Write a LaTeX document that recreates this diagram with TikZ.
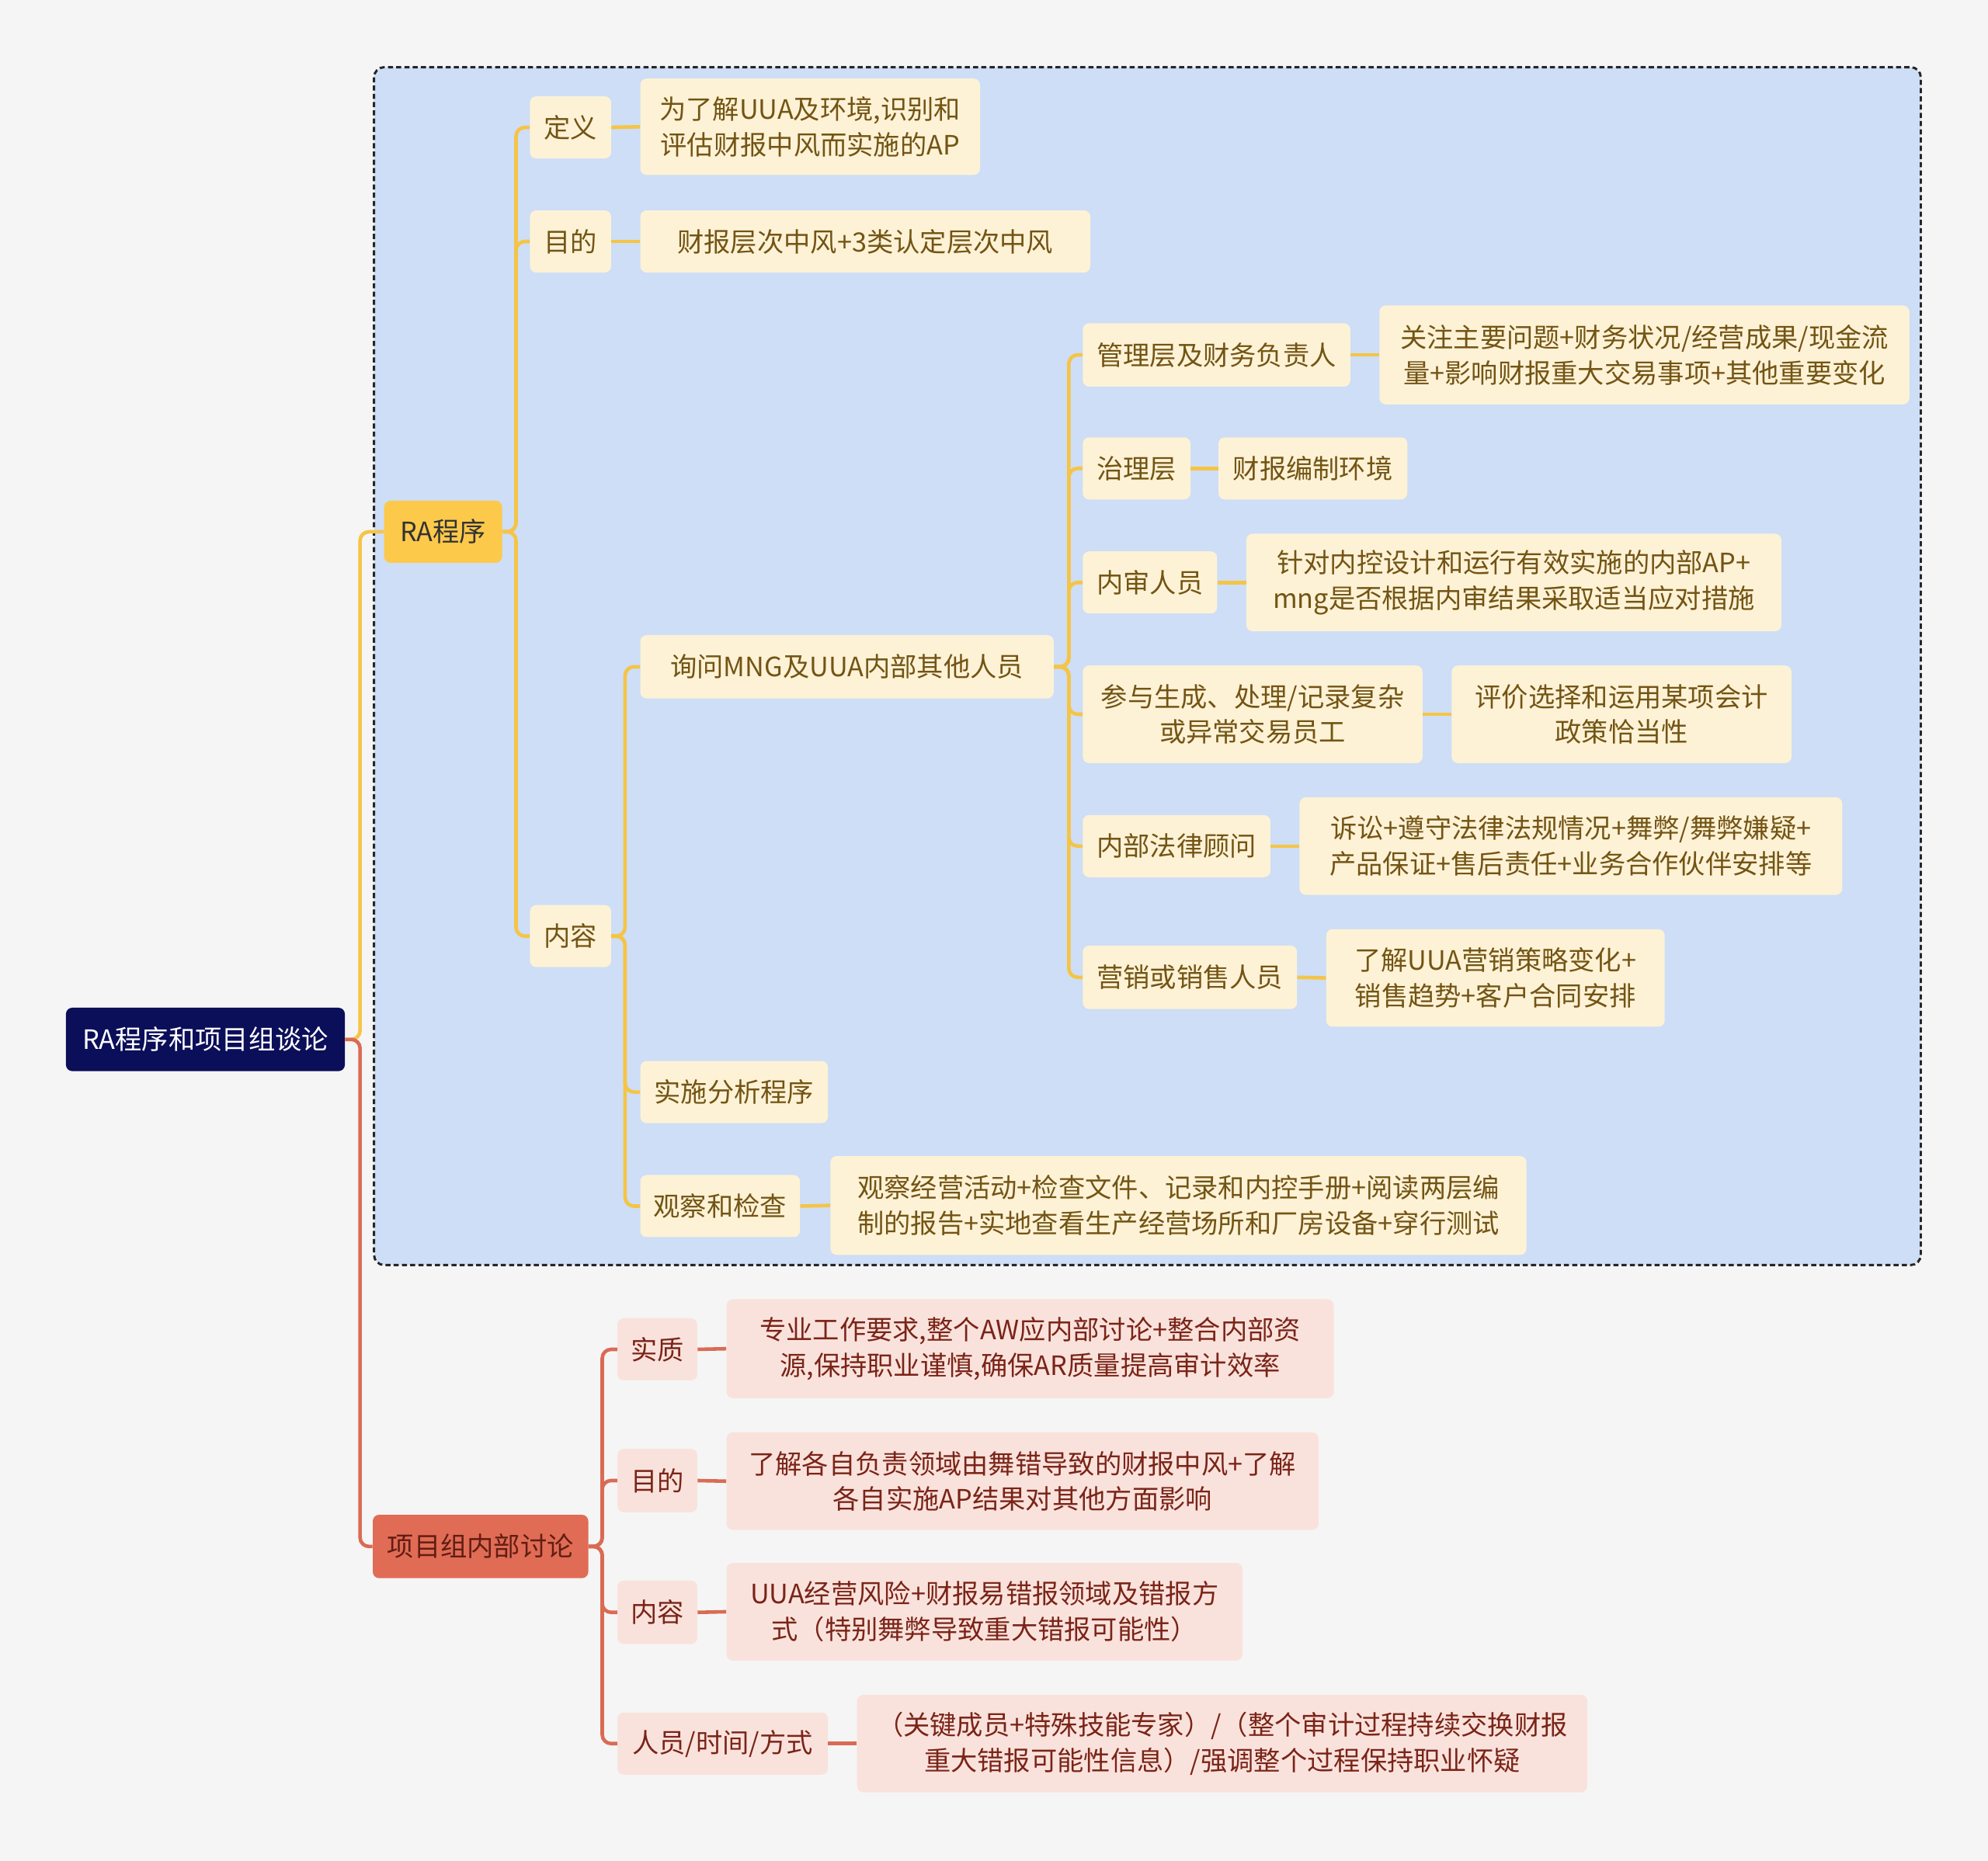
\documentclass[tikz,border=0pt]{standalone}
\usepackage{fontspec}
\setmainfont{Noto Sans CJK SC}
\definecolor{bgc}{HTML}{F5F5F5}
\definecolor{framefill}{HTML}{CDDEF6}
\definecolor{yfill}{HTML}{FDF2D6}
\definecolor{ytext}{HTML}{735414}
\definecolor{yline}{HTML}{F6C445}
\definecolor{ragold}{HTML}{FCC94B}
\definecolor{rfill}{HTML}{FAE2DC}
\definecolor{rtext}{HTML}{7A2418}
\definecolor{rline}{HTML}{D96B55}
\definecolor{xmfill}{HTML}{E06C55}
\definecolor{rootfill}{HTML}{0B0E58}
\tikzset{
  base/.style={rounded corners=5pt, inner sep=0pt, align=center, font=\fontsize{21}{28}\selectfont},
  ybox/.style={base, fill=yfill, text=ytext},
  rbox/.style={base, fill=rfill, text=rtext},
  ylink/.style={draw=yline, line width=2.8pt, rounded corners=7pt},
  rlink/.style={draw=rline, line width=2.8pt, rounded corners=7pt},
  sz/.style n args={2}{minimum width=#1pt, minimum height=#2pt}
}
\begin{document}
\begin{tikzpicture}[x=1pt,y=-1pt]
\fill[bgc] (0,0) rectangle (1568,1468);
\useasboundingbox (0,0) rectangle (1568,1468);
\draw[fill=framefill, draw=black!85, dash pattern=on 4pt off 2.5pt, line width=1.8pt, rounded corners=8pt] (295,53) rectangle (1515,998);

% nodes
\node[base, fill=rootfill, text=white, sz={220}{50}] (root) at (162,820) {RA程序和项目组谈论};
\node[base, fill=ragold, text=black!80, sz={93}{49}] (ra) at (349.5,419.5) {RA程序};
\node[base, fill=xmfill, text=rtext!80!black, sz={170}{50}] (xm) at (379,1220) {项目组内部讨论};

\node[ybox, sz={64}{49}] (def) at (450,100.5) {定义};
\node[ybox, sz={268}{76}] (defc) at (639,100) {为了解UUA及环境,识别和\\评估财报中风而实施的AP};
\node[ybox, sz={64}{49}] (mud) at (450,190.5) {目的};
\node[ybox, sz={355}{49}] (mudc) at (682.5,190.5) {财报层次中风+3类认定层次中风};
\node[ybox, sz={64}{49}] (nr) at (450,738.5) {内容};

\node[ybox, sz={326}{50}] (xw) at (668,526) {询问MNG及UUA内部其他人员};
\node[ybox, sz={148}{49}] (ss) at (579,861.5) {实施分析程序};
\node[ybox, sz={126}{49}] (gc) at (568,951.5) {观察和检查};
\node[ybox, sz={549}{78}] (gcc) at (929.5,951) {观察经营活动+检查文件、记录和内控手册+阅读两层编\\制的报告+实地查看生产经营场所和厂房设备+穿行测试};

\node[ybox, sz={211}{50}] (m1) at (959.5,280) {管理层及财务负责人};
\node[ybox, sz={418}{78}] (m1c) at (1297,280) {关注主要问题+财务状况/经营成果/现金流\\量+影响财报重大交易事项+其他重要变化};
\node[ybox, sz={85}{49}] (m2) at (896.5,369.5) {治理层};
\node[ybox, sz={149}{49}] (m2c) at (1035.5,369.5) {财报编制环境};
\node[ybox, sz={106}{49}] (m3) at (907,459.5) {内审人员};
\node[ybox, sz={422}{77}] (m3c) at (1194,459.5) {针对内控设计和运行有效实施的内部AP+\\mng是否根据内审结果采取适当应对措施};
\node[ybox, sz={268}{77}] (m4) at (988,563.5) {参与生成、处理/记录复杂\\或异常交易员工};
\node[ybox, sz={268}{77}] (m4c) at (1279,563.5) {评价选择和运用某项会计\\政策恰当性};
\node[ybox, sz={148}{49}] (m5) at (928,667.5) {内部法律顾问};
\node[ybox, sz={428}{77}] (m5c) at (1239,667.5) {诉讼+遵守法律法规情况+舞弊/舞弊嫌疑+\\产品保证+售后责任+业务合作伙伴安排等};
\node[ybox, sz={169}{50}] (m6) at (938.5,771) {营销或销售人员};
\node[ybox, sz={267}{77}] (m6c) at (1179.5,771.5) {了解UUA营销策略变化+\\销售趋势+客户合同安排};

\node[rbox, sz={63}{49}] (r1) at (518.5,1064.5) {实质};
\node[rbox, sz={479}{78}] (r1c) at (812.5,1064) {专业工作要求,整个AW应内部讨论+整合内部资\\源,保持职业谨慎,确保AR质量提高审计效率};
\node[rbox, sz={63}{50}] (r2) at (518.5,1168) {目的};
\node[rbox, sz={467}{77}] (r2c) at (806.5,1168.5) {了解各自负责领域由舞错导致的财报中风+了解\\各自实施AP结果对其他方面影响};
\node[rbox, sz={63}{50}] (r3) at (518.5,1272) {内容};
\node[rbox, sz={407}{77}] (r3c) at (776.5,1271.5) {UUA经营风险+财报易错报领域及错报方\\式（特别舞弊导致重大错报可能性）};
\node[rbox, sz={166}{49}] (r4) at (570,1375.5) {人员/时间/方式};
\node[rbox, sz={576}{77}] (r4c) at (964,1375.5) {（关键成员+特殊技能专家）/（整个审计过程持续交换财报\\重大错报可能性信息）/强调整个过程保持职业怀疑};

% connectors
\draw[ylink] (root.east) -- (284,820) |- (ra.west);
\draw[rlink] (root.east) -- (284,820) |- (xm.west);

\foreach \c in {def,mud,nr}{ \draw[ylink] (ra.east) -- (407,419.5) |- (\c.west); }
\draw[ylink] (def.east) -- (defc.west);
\draw[ylink] (mud.east) -- (mudc.west);

\foreach \c in {xw,ss,gc}{ \draw[ylink] (nr.east) -- (493,738.5) |- (\c.west); }
\draw[ylink] (gc.east) -- (gcc.west);

\foreach \c in {m1,m2,m3,m4,m5,m6}{ \draw[ylink] (xw.east) -- (843,526) |- (\c.west); }
\draw[ylink] (m1.east) -- (m1c.west);
\draw[ylink] (m2.east) -- (m2c.west);
\draw[ylink] (m3.east) -- (m3c.west);
\draw[ylink] (m4.east) -- (m4c.west);
\draw[ylink] (m5.east) -- (m5c.west);
\draw[ylink] (m6.east) -- (m6c.west);

\foreach \c in {r1,r2,r3,r4}{ \draw[rlink] (xm.east) -- (475,1220) |- (\c.west); }
\draw[rlink] (r1.east) -- (r1c.west);
\draw[rlink] (r2.east) -- (r2c.west);
\draw[rlink] (r3.east) -- (r3c.west);
\draw[rlink] (r4.east) -- (r4c.west);
\end{tikzpicture}
\end{document}
